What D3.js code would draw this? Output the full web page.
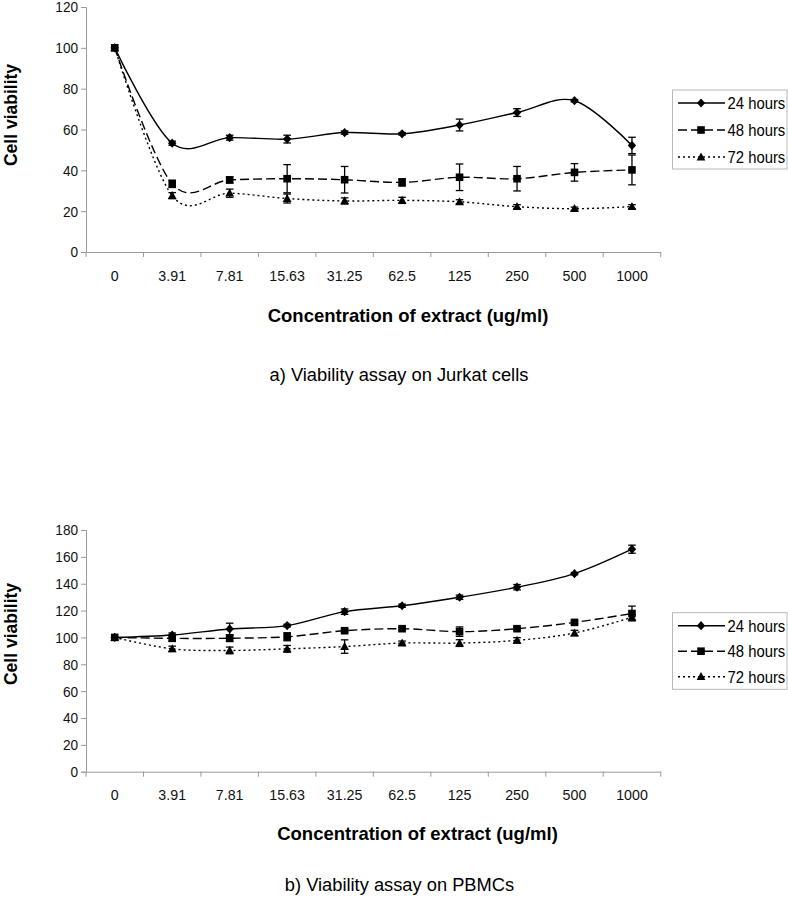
<!DOCTYPE html>
<html>
<head>
<meta charset="utf-8">
<script src="https://cdn.jsdelivr.net/npm/d3@7"></script>
<style>
  html, body { margin: 0; padding: 0; background: #fff; }
  svg { display: block; font-family: "Liberation Sans", Arial, sans-serif; }
</style>
</head>
<body>
<svg id="chart" width="788" height="903"></svg>
<script>
// ---------- DATA ----------
const categories = ["0", "3.91", "7.81", "15.63", "31.25", "62.5", "125", "250", "500", "1000"];
const seriesNames = ["24 hours", "48 hours", "72 hours"];

const jurkat24    = [100, 53.3, 56.0, 55.3, 58.5, 57.9, 62.2, 68.3, 74.1, 52.2];
const jurkat24Err = [0, 1.0, 1.2, 1.9, 0.8, 0.6, 2.9, 1.9, 0.6, 4.0];
const jurkat48    = [100, 33.4, 35.3, 35.9, 35.4, 34.1, 36.6, 35.9, 39.0, 40.2];
const jurkat48Err = [0, 1.8, 1.5, 6.9, 6.5, 1.8, 6.5, 6.0, 4.3, 7.3];
const jurkat72    = [100, 27.6, 28.8, 26.2, 25.0, 25.3, 24.6, 22.2, 21.2, 22.2];
const jurkat72Err = [0, 1.5, 2.0, 2.2, 1.5, 1.5, 1.0, 1.0, 0.8, 1.0];

const pbmc24    = [100, 101.8, 106.3, 108.8, 119.2, 123.6, 129.9, 137.4, 147.5, 165.7];
const pbmc24Err = [0, 1.5, 4.3, 1.0, 2.0, 1.2, 1.6, 2.0, 0.8, 3.0];
const pbmc48    = [100, 99.3, 99.4, 100.5, 105.0, 106.5, 104.3, 106.5, 111.2, 117.8];
const pbmc48Err = [0, 2.0, 2.5, 3.0, 1.0, 1.0, 3.5, 1.0, 1.0, 5.5];
const pbmc72    = [100, 91.5, 90.3, 91.5, 93.2, 95.8, 95.8, 97.8, 103.3, 115.0];
const pbmc72Err = [0, 2.0, 2.5, 2.5, 5.0, 1.5, 2.5, 2.0, 2.0, 2.0];

const jurkatTicks = [0, 20, 40, 60, 80, 100, 120];
const pbmcTicks = [0, 20, 40, 60, 80, 100, 120, 140, 160, 180];

const xTitle = "Concentration of extract (ug/ml)";
const yTitle = "Cell viability";
const captionA = "a) Viability assay on Jurkat cells";
const captionB = "b) Viability assay on PBMCs";

// ---------- STYLE ----------
const svg = d3.select("#chart");
const axisColor = "#9a9a9a";
const dashes = [null, "9,4", "2,3"];
const markers = ["diamond", "square", "triangle"];

function markerPath(type) {
  if (type === "diamond") return "M0,-4.6L4.2,0L0,4.6L-4.2,0Z";
  if (type === "square") return "M-3.8,-3.8H3.8V3.8H-3.8Z";
  return "M0,-4.6L4.4,3.4H-4.4Z";
}

function drawPanel(cfg) {
  const g = svg.append("g");
  const x = d3.scaleBand().domain(categories).range([86, 660.7]);
  const y = d3.scaleLinear().domain([0, cfg.ymax]).range([cfg.y0, cfg.y1]);

  // y axis
  const yAxis = d3.axisLeft(y).tickValues(cfg.ticks).tickSize(5).tickPadding(4);
  const ya = g.append("g").attr("transform", "translate(86,0)").call(yAxis);
  ya.select(".domain").attr("stroke", axisColor);
  ya.selectAll(".tick line").attr("stroke", axisColor);
  ya.selectAll(".tick text").attr("font-size", 15.5).attr("fill", "#111")
    .attr("font-family", "'Liberation Sans', Arial, sans-serif")
    .attr("transform", "scale(0.88,1)");

  // x axis
  const xAxis = d3.axisBottom(x).tickSize(0).tickPadding(18);
  const xa = g.append("g").attr("transform", `translate(0,${cfg.y0})`).call(xAxis);
  xa.select(".domain").attr("stroke", axisColor);
  xa.selectAll(".tick text").attr("font-size", 15).attr("fill", "#111")
    .attr("font-family", "'Liberation Sans', Arial, sans-serif")
    .attr("transform", "scale(0.95,1)");
  // category boundary ticks
  const bounds = categories.map(c => x(c)).concat([x.range()[1]]);
  g.append("g").selectAll("line").data(bounds).join("line")
    .attr("x1", d => d).attr("x2", d => d)
    .attr("y1", cfg.y0).attr("y2", cfg.y0 + 5)
    .attr("stroke", axisColor);

  const cx = c => x(c) + x.bandwidth() / 2;

  // series
  const line = d3.line().x((d, i) => cx(categories[i])).y(d => y(d)).curve(d3.curveCardinal.tension(0));
  cfg.series.forEach((s, k) => {
    g.append("path").attr("d", line(s.v)).attr("fill", "none").attr("stroke", "#000")
      .attr("stroke-width", 1.4).attr("stroke-dasharray", dashes[k]);
  });
  cfg.series.forEach((s, k) => {
    const eg = g.append("g");
    s.v.forEach((v, i) => {
      const e = s.e[i];
      if (!e) return;
      const xc = cx(categories[i]);
      eg.append("line").attr("x1", xc).attr("x2", xc).attr("y1", y(v - e)).attr("y2", y(v + e))
        .attr("stroke", "#000").attr("stroke-width", 1.3);
      [v - e, v + e].forEach(w => {
        eg.append("line").attr("x1", xc - 3.8).attr("x2", xc + 3.8).attr("y1", y(w)).attr("y2", y(w))
          .attr("stroke", "#000").attr("stroke-width", 1.3);
      });
    });
  });
  cfg.series.forEach((s, k) => {
    g.append("g").selectAll("path").data(s.v).join("path")
      .attr("d", markerPath(markers[k]))
      .attr("transform", (d, i) => `translate(${cx(categories[i])},${y(d)})`)
      .attr("fill", "#000");
  });

  // axis titles
  g.append("text").attr("transform", `translate(${cfg.yTitleX},${cfg.yTitleY}) rotate(-90)`)
    .attr("text-anchor", "middle").attr("font-size", 17.5).attr("font-weight", "bold").text(yTitle);
  g.append("text").attr("x", cfg.xTitleX).attr("y", cfg.xTitleY)
    .attr("text-anchor", "middle").attr("font-size", 18.5).attr("font-weight", "bold").text(xTitle);
  g.append("text").attr("x", cfg.capX).attr("y", cfg.capY)
    .attr("text-anchor", "middle").attr("font-size", 18.3).text(cfg.caption);

  // legend
  const L = cfg.legend;
  const lg = g.append("g");
  lg.append("rect").attr("x", 672.5).attr("y", L.top).attr("width", 114.5).attr("height", L.h)
    .attr("fill", "#fff").attr("stroke", "#b8b8b8");
  seriesNames.forEach((name, k) => {
    const yy = L.top + L.first + k * L.step;
    lg.append("line").attr("x1", 678).attr("x2", 725).attr("y1", yy).attr("y2", yy)
      .attr("stroke", "#000").attr("stroke-width", 1.4).attr("stroke-dasharray", dashes[k]);
    lg.append("path").attr("d", markerPath(markers[k])).attr("transform", `translate(701,${yy})`).attr("fill", "#000");
    lg.append("text").attr("transform", `translate(727.5,${yy + 5.8}) scale(0.9,1)`)
      .attr("font-size", 16.5).text(name);
  });
}

drawPanel({
  ymax: 120, y0: 252, y1: 7, ticks: jurkatTicks,
  series: [{v: jurkat24, e: jurkat24Err}, {v: jurkat48, e: jurkat48Err}, {v: jurkat72, e: jurkat72Err}],
  yTitleX: 16.5, yTitleY: 115, xTitleX: 408, xTitleY: 322,
  capX: 399, capY: 381, caption: captionA,
  legend: {top: 90, h: 79, first: 13, step: 27}
});

drawPanel({
  ymax: 180, y0: 771.7, y1: 530, ticks: pbmcTicks,
  series: [{v: pbmc24, e: pbmc24Err}, {v: pbmc48, e: pbmc48Err}, {v: pbmc72, e: pbmc72Err}],
  yTitleX: 16.5, yTitleY: 634, xTitleX: 417.5, xTitleY: 840,
  capX: 399.5, capY: 891, caption: captionB,
  legend: {top: 612.7, h: 76.6, first: 13, step: 25.5}
});
</script>
</body>
</html>
